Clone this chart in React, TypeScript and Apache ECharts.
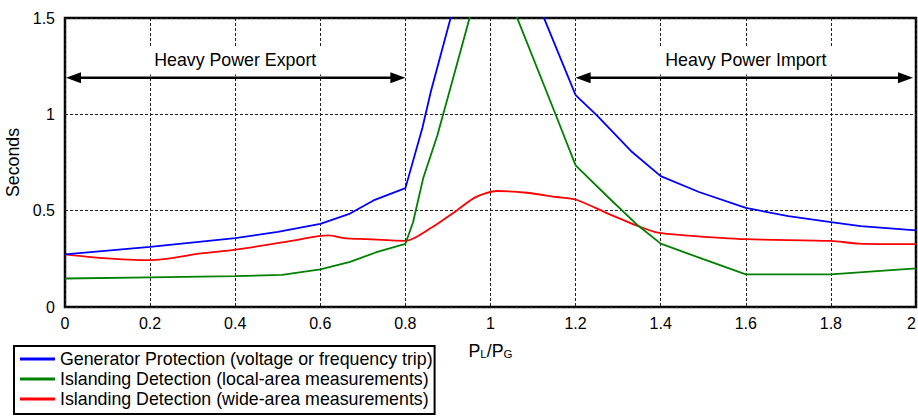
import React, { useEffect, useRef } from "react";
import * as echarts from "echarts";

const FONT = "'Liberation Sans', Arial, Helvetica, sans-serif";

const seriesNames = [
  "Generator Protection (voltage or frequency trip)",
  "Islanding Detection (local-area measurements)",
  "Islanding Detection (wide-area measurements)",
];
const seriesColors = ["#0000ff", "#008000", "#ff0000"];

const xTickLabels = ["0", "0.2", "0.4", "0.6", "0.8", "1", "1.2", "1.4", "1.6", "1.8", "2"];
const yTickLabels = ["0", "0.5", "1", "1.5"];

const generatorProtection: [number, number][] = [
  [0, 0.273], [0.2, 0.312], [0.4, 0.357], [0.5, 0.39], [0.6, 0.431], [0.67, 0.485],
  [0.725, 0.553], [0.8, 0.617], [0.84, 0.93], [0.86, 1.12], [0.905, 1.49], [0.95, 1.88],
  [1.0, 2.2], [1.08, 1.75], [1.127, 1.493], [1.2, 1.1], [1.25, 0.995], [1.33, 0.81],
  [1.4, 0.679], [1.49, 0.597], [1.6, 0.514], [1.7, 0.472], [1.8, 0.441], [1.87, 0.42],
  [2.0, 0.398],
];

const localIslanding: [number, number][] = [
  [0, 0.148], [0.2, 0.154], [0.4, 0.16], [0.51, 0.167], [0.6, 0.195], [0.67, 0.234],
  [0.73, 0.283], [0.8, 0.328], [0.818, 0.44], [0.842, 0.67], [0.875, 0.89], [0.91, 1.17],
  [0.95, 1.493], [0.98, 1.75], [1.0, 1.9], [1.03, 1.68], [1.064, 1.493], [1.15, 1.016],
  [1.2, 0.735], [1.276, 0.571], [1.346, 0.424], [1.4, 0.329], [1.5, 0.248], [1.6, 0.169],
  [1.8, 0.169], [2.0, 0.2],
];

const wideIslanding: [number, number][] = [
  [0, 0.273], [0.08, 0.255], [0.2, 0.243], [0.32, 0.278], [0.4, 0.298], [0.51, 0.335],
  [0.6, 0.369], [0.62, 0.372], [0.655, 0.358], [0.71, 0.352], [0.8, 0.343], [0.86, 0.41],
  [0.92, 0.5], [0.965, 0.57], [1.015, 0.602], [1.085, 0.593], [1.155, 0.571], [1.2, 0.558],
  [1.276, 0.485], [1.346, 0.421], [1.393, 0.386], [1.456, 0.372], [1.6, 0.352], [1.8, 0.343],
  [1.865, 0.329], [2.0, 0.326],
];

const seriesData = [generatorProtection, localIslanding, wideIslanding];

// Annotations: label, arrow from-x, to-x, arrow y, label y
const annotationLabels = ["Heavy Power Export", "Heavy Power Import"];
const annotationFrom = [0, 1.2];
const annotationTo = [0.8, 2.0];
const annotationArrowY = [1.19, 1.19];
const annotationLabelY = [1.28, 1.28];

export default function App() {
  const ref = useRef<HTMLDivElement>(null);

  useEffect(() => {
    if (!ref.current) return;
    const chart = echarts.init(ref.current, null, { renderer: "svg" });
    const option: any = {
      animation: false,
      backgroundColor: "#fff",
      grid: {
        left: 65,
        right: 2,
        top: 18,
        bottom: 109,
        show: true,
        borderColor: "#000",
        borderWidth: 2.5,
        backgroundColor: "transparent",
        containLabel: false,
        outerBoundsMode: "none",
      },
      xAxis: {
        type: "value",
        min: 0,
        max: 2,
        interval: 0.2,
        name: "{n|P}{s|L}{n|/P}{s|G}",
        nameLocation: "middle",
        nameGap: 35,
        nameTextStyle: {
          rich: {
            n: { fontSize: 17.8, fontFamily: FONT, color: "#000" },
            s: { fontSize: 11.5, fontFamily: FONT, color: "#000", verticalAlign: "bottom" },
          },
        },
        axisLine: { show: false },
        axisTick: { show: false },
        axisLabel: {
          fontSize: 16,
          fontFamily: FONT,
          color: "#000",
          margin: 8,
          alignMaxLabel: "right",
          formatter: (v: number) => xTickLabels[Math.round(v / 0.2)] ?? "",
        },
        splitLine: { show: true, lineStyle: { color: "#222", width: 1, type: [3, 2] } },
      },
      yAxis: {
        type: "value",
        min: 0,
        max: 1.5,
        interval: 0.5,
        name: "Seconds",
        nameLocation: "middle",
        nameRotate: 90,
        nameGap: 35,
        nameTextStyle: { fontSize: 17.8, fontFamily: FONT, color: "#000" },
        axisLine: { show: false },
        axisTick: { show: false },
        axisLabel: {
          fontSize: 16,
          fontFamily: FONT,
          color: "#000",
          margin: 10,
          formatter: (v: number) => yTickLabels[Math.round(v / 0.5)] ?? "",
        },
        splitLine: { show: true, lineStyle: { color: "#222", width: 1, type: [3, 2] } },
      },
      legend: {
        orient: "vertical",
        left: 14,
        top: 346,
        padding: [3, 2, 5, 6],
        itemGap: 0,
        itemWidth: 35,
        itemHeight: 3,
        icon: "rect",
        borderColor: "#000",
        borderWidth: 2,
        borderRadius: 0,
        backgroundColor: "#fff",
        textStyle: { fontSize: 17.8, lineHeight: 20, color: "#000", fontFamily: FONT },
        data: seriesNames,
      },
      series: seriesNames.map((name, i) => ({
        name,
        type: "line",
        data: seriesData[i],
        showSymbol: false,
        symbol: "none",
        clip: true,
        smooth: i === 2 ? 0.25 : false,
        itemStyle: { color: seriesColors[i] },
        lineStyle: { color: seriesColors[i], width: 1.8 },
        z: 3 - i,
      })),
    };
    chart.setOption(option);

    const graphics: any[] = [];
    annotationLabels.forEach((label, i) => {
      const p1 = chart.convertToPixel({ gridIndex: 0 }, [annotationFrom[i], annotationArrowY[i]]) as number[];
      const p2 = chart.convertToPixel({ gridIndex: 0 }, [annotationTo[i], annotationArrowY[i]]) as number[];
      const pl = chart.convertToPixel(
        { gridIndex: 0 },
        [(annotationFrom[i] + annotationTo[i]) / 2, annotationLabelY[i]]
      ) as number[];
      const x1 = p1[0] + (annotationFrom[i] === 0 ? 1 : 0);
      const x2 = p2[0] - (annotationTo[i] === 2 ? 3 : 0);
      const y = p1[1];
      const headL = 15;
      const headW = 5.5;
      graphics.push({
        type: "line",
        shape: { x1: x1 + headL - 2, y1: y, x2: x2 - headL + 2, y2: y },
        style: { stroke: "#000", lineWidth: 2.5 },
        z: 100,
      });
      graphics.push({
        type: "polygon",
        shape: { points: [[x1, y], [x1 + headL, y - headW], [x1 + headL, y + headW]] },
        style: { fill: "#000" },
        z: 100,
      });
      graphics.push({
        type: "polygon",
        shape: { points: [[x2, y], [x2 - headL, y - headW], [x2 - headL, y + headW]] },
        style: { fill: "#000" },
        z: 100,
      });
      graphics.push({
        type: "text",
        x: pl[0],
        y: pl[1],
        style: {
          text: label,
          font: `17.8px ${FONT}`,
          fill: "#000",
          align: "center",
          verticalAlign: "middle",
          backgroundColor: "#fff",
          padding: [5, 7],
        },
        z: 100,
      });
    });
    chart.setOption({ graphic: graphics });

    return () => chart.dispose();
  }, []);

  return (
    <div
      ref={ref}
      style={{ position: "fixed", left: 0, top: 0, width: 918, height: 416, background: "#fff" }}
    />
  );
}
